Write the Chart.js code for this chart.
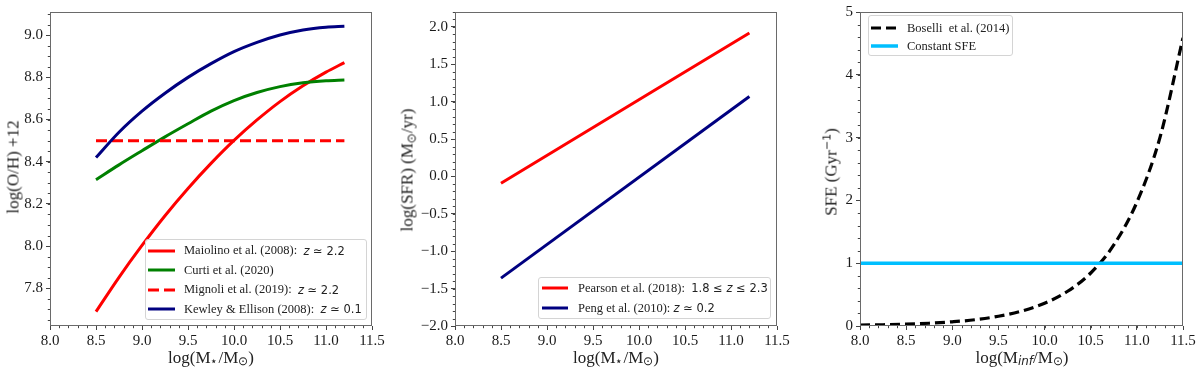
<!DOCTYPE html>
<html>
<head>
<meta charset="utf-8">
<script src="https://cdn.jsdelivr.net/npm/chart.js@4.4.1/dist/chart.umd.min.js"></script>
<style>
  html, body { margin:0; padding:0; background:#fff; }
  #wrap { position:relative; width:1200px; height:371px; overflow:hidden; font-family:"Liberation Serif", serif; color:#1a1a1a; }
  .pane { position:absolute; top:0; width:400px; height:371px; }
  .lab { position:absolute; white-space:nowrap; font-size:17px; line-height:1; transform:translate(-50%,-50%); color:#222; }
  .rot { transform:translate(-50%,-50%) rotate(-90deg); }
  .leg { position:absolute; box-sizing:border-box; border:1px solid #d4d4d4; border-radius:3px; background:rgba(255,255,255,0.85); }
  .row { display:flex; align-items:center; white-space:nowrap; font-size:12px; color:#222; }
  .row svg { flex:none; }
  .m { font-family:"DejaVu Sans", sans-serif; font-size:11.5px; }
  sub { font-size:70%; vertical-align:-0.25em; line-height:0; }
  sup { font-size:65%; vertical-align:0.55em; line-height:0; }
</style>
</head>
<body>
<div id="wrap">
  <div class="pane" style="left:0"><canvas id="c1" width="400" height="371"></canvas></div>
  <div class="pane" style="left:400px"><canvas id="c2" width="400" height="371"></canvas></div>
  <div class="pane" style="left:800px"><canvas id="c3" width="400" height="371"></canvas></div>

  <div class="lab rot" style="left:13px;top:167px">log(O/H) +12</div>
  <div class="lab" style="left:211px;top:357px">log(M<sub>⋆</sub>/M<sub>⊙</sub>)</div>
  <div class="lab rot" style="left:407px;top:170px">log(SFR) (M<sub>⊙</sub>/yr)</div>
  <div class="lab" style="left:616px;top:357px">log(M<sub>⋆</sub>/M<sub>⊙</sub>)</div>
  <div class="lab rot" style="left:831px;top:172px">SFE (Gyr<sup class="m" style="font-size:65%">−1</sup>)</div>
  <div class="lab" style="left:1022px;top:357px">log(M<sub><i class="m" style="font-size:100%">inf</i></sub>/M<sub>⊙</sub>)</div>

  <div id="leg1" class="leg" style="left:145px;top:239px;width:222px;height:81px;padding-top:1px"></div>
  <div id="leg2" class="leg" style="left:538px;top:277px;width:233px;height:42px;padding-top:0px"></div>
  <div id="leg3" class="leg" style="left:868px;top:15px;width:145px;height:41px;padding-top:3px"></div>
</div>

<script>
// ---------------- data ----------------
const xTicks = [8.0, 8.5, 9.0, 9.5, 10.0, 10.5, 11.0, 11.5];
const xTickLabels = ['8.0', '8.5', '9.0', '9.5', '10.0', '10.5', '11.0', '11.5'];

// Panel 1: mass-metallicity relations
const massMZ   = [8.5, 8.75, 9.0, 9.25, 9.5, 9.75, 10.0, 10.25, 10.5, 10.75, 11.0, 11.2];
const maiolino = [7.689, 7.852, 8.003, 8.144, 8.273, 8.392, 8.501, 8.598, 8.685, 8.760, 8.825, 8.870];
const curti    = [8.315, 8.385, 8.452, 8.518, 8.580, 8.640, 8.690, 8.728, 8.756, 8.774, 8.784, 8.788];
const massMig  = [8.5, 11.2];
const mignoli  = [8.5, 8.5];
const kewley   = [8.42, 8.54, 8.64, 8.725, 8.80, 8.865, 8.922, 8.966, 9.001, 9.025, 9.038, 9.042];
const yTicks1 = [7.8, 8.0, 8.2, 8.4, 8.6, 8.8, 9.0];
const yTickLabels1 = ['7.8', '8.0', '8.2', '8.4', '8.6', '8.8', '9.0'];

// Panel 2: main sequence
const massMS  = [8.5, 11.2];
const pearson = [-0.09, 1.92];
const peng    = [-1.36, 1.07];
const yTicks2 = [-2.0, -1.5, -1.0, -0.5, 0.0, 0.5, 1.0, 1.5, 2.0];
const yTickLabels2 = ['−2.0', '−1.5', '−1.0', '−0.5', '0.0', '0.5', '1.0', '1.5', '2.0'];

// Panel 3: star formation efficiency
const massInf  = [8.0, 8.25, 8.5, 8.75, 9.0, 9.25, 9.5, 9.75, 10.0, 10.25, 10.5, 10.75, 11.0, 11.25, 11.5];
const boselli  = [0.015, 0.020, 0.029, 0.044, 0.067, 0.10, 0.155, 0.237, 0.362, 0.553, 0.844, 1.29, 1.97, 3.00, 4.59];
const massConst = [8.0, 11.5];
const constSFE  = [1.0, 1.0];
const yTicks3 = [0, 1, 2, 3, 4, 5];
const yTickLabels3 = ['0', '1', '2', '3', '4', '5'];

// ---------------- helpers ----------------
const SERIF = "'Liberation Serif', 'Times New Roman', serif";
Chart.defaults.font.family = SERIF;
Chart.defaults.color = '#1a1a1a';

function pts(xs, ys) { return xs.map((x, i) => ({ x: x, y: ys[i] })); }
function range(a, b, s) { const r = []; for (let v = a; v <= b + 1e-9; v += s) r.push(+v.toFixed(4)); return r; }

const framePlugin = {
  id: 'frame',
  afterDraw(chart, args, opts) {
    const ctx = chart.ctx, a = chart.chartArea;
    const xs = chart.scales.x, ys = chart.scales.y;
    ctx.save();
    ctx.strokeStyle = '#444';
    ctx.lineWidth = 1;
    ctx.beginPath();
    (opts.xMinor || []).forEach(v => {
      if (v < xs.min - 1e-9 || v > xs.max + 1e-9) return;
      const p = Math.round(xs.getPixelForValue(v)) + 0.5;
      ctx.moveTo(p, a.bottom); ctx.lineTo(p, a.bottom + 2.2);
    });
    (opts.yMinor || []).forEach(v => {
      if (v < ys.min - 1e-9 || v > ys.max + 1e-9) return;
      const p = Math.round(ys.getPixelForValue(v)) + 0.5;
      ctx.moveTo(a.left, p); ctx.lineTo(a.left - 2.2, p);
    });
    ctx.stroke();
    ctx.strokeStyle = '#6a6a6a';
    ctx.strokeRect(Math.round(a.left) + 0.5, Math.round(a.top) + 0.5,
                   Math.round(a.right - a.left) - 1, Math.round(a.bottom - a.top) - 1);
    ctx.restore();
  }
};

function xScale() {
  return {
    type: 'linear', min: 8.0, max: 11.5,
    afterBuildTicks: s => { s.ticks = xTicks.map(v => ({ value: v })); },
    ticks: { callback: (v, i) => xTickLabels[i], font: { family: SERIF, size: 15 }, padding: 2, maxRotation: 0, autoSkip: false, color: '#1a1a1a' },
    grid: { drawOnChartArea: false, drawTicks: true, tickLength: 4, color: '#444' },
    border: { display: false },
    afterFit: s => { s.height = 45; }
  };
}
function yScale(min, max, ticks, labels, width) {
  return {
    type: 'linear', min: min, max: max,
    afterBuildTicks: s => { s.ticks = ticks.map(v => ({ value: v })); },
    ticks: { callback: (v, i) => labels[i], font: { family: SERIF, size: 15 }, padding: 3, autoSkip: false, color: '#1a1a1a' },
    grid: { drawOnChartArea: false, drawTicks: true, tickLength: 4, color: '#444' },
    border: { display: false },
    afterFit: s => { s.width = width; }
  };
}
function ds(label, xs, ys, color, opts) {
  return Object.assign({
    label: label, data: pts(xs, ys), borderColor: color, backgroundColor: color,
    borderWidth: 3, pointRadius: 0, fill: false, cubicInterpolationMode: 'monotone'
  }, opts || {});
}
function make(id, datasets, yS, pad, minor) {
  const n = datasets.length;
  datasets.forEach((d, i) => { d.order = n - i; });
  return new Chart(document.getElementById(id), {
    type: 'line',
    data: { datasets: datasets },
    options: {
      responsive: false, animation: false, events: [], devicePixelRatio: 1,
      layout: { padding: pad },
      plugins: { legend: { display: false }, tooltip: { enabled: false }, frame: minor },
      scales: { x: xScale(), y: yS }
    },
    plugins: [framePlugin]
  });
}

// ---------------- charts ----------------
const RED = '#ff0000', GREEN = '#008000', NAVY = '#000080', CYAN = '#00bfff', BLACK = '#000000';
const DASH = [11, 5];

const s1 = [
  ds('Maiolino et al. (2008):', massMZ, maiolino, RED),
  ds('Curti et al. (2020)', massMZ, curti, GREEN),
  ds('Mignoli et al. (2019):', massMig, mignoli, RED, { borderDash: DASH }),
  ds('Kewley & Ellison (2008):', massMZ, kewley, NAVY)
];
make('c1', s1, yScale(7.621, 9.110, yTicks1, yTickLabels1, 50),
     { left: 0, right: 28, top: 12, bottom: 0 },
     { xMinor: range(8.0, 11.5, 0.1), yMinor: range(7.65, 9.1, 0.05) });

const s2 = [
  ds('Pearson et al. (2018):', massMS, pearson, RED),
  ds('Peng et al. (2010):', massMS, peng, NAVY)
];
make('c2', s2, yScale(-2.0, 2.2, yTicks2, yTickLabels2, 55),
     { left: 0, right: 23, top: 12, bottom: 0 },
     { xMinor: range(8.0, 11.5, 0.1), yMinor: range(-2.0, 2.2, 0.1) });

const s3 = [
  ds('Boselli\u00a0 et al. (2014)', massInf, boselli, BLACK, { borderDash: [10, 5], borderWidth: 3.2 }),
  ds('Constant SFE', massConst, constSFE, CYAN, { borderWidth: 3.5 })
];
make('c3', s3, yScale(0, 5, yTicks3, yTickLabels3, 60),
     { left: 0, right: 17, top: 11, bottom: 0 },
     { xMinor: range(8.0, 11.5, 0.1), yMinor: range(0, 5, 0.2) });

// ---------------- legends (HTML) ----------------
const math1 = ['<i>z</i> ≃ 2.2', '', '<i>z</i> ≃ 2.2', '<i>z</i> ≃ 0.1'];
const math2 = ['1.8 ≤ <i>z</i> ≤ 2.3', '<i>z</i> ≃ 0.2'];
const math3 = ['', ''];
const seps1 = ['\u00a0\u00a0', '', '\u00a0\u00a0', '\u00a0\u00a0'];
const seps2 = ['\u00a0\u00a0', '\u00a0'];

function sample(d, w) {
  const dash = d.borderDash ? d.borderDash.join(' ') : 'none';
  return '<svg width="' + w + '" height="6" style="display:block"><line x1="0" y1="3" x2="' + w +
         '" y2="3" stroke="' + d.borderColor + '" stroke-width="' + d.borderWidth +
         '" stroke-dasharray="' + dash + '"/></svg>';
}
function buildLegend(id, sets, maths, seps, rowH, off, sw, gap, fs) {
  const el = document.getElementById(id);
  el.innerHTML = sets.map((d, i) =>
    '<div class="row" style="height:' + rowH + 'px;font-size:' + fs + 'px">' +
    '<span style="width:' + off + 'px;flex:none"></span>' + sample(d, sw) +
    '<span style="width:' + gap + 'px;flex:none"></span>' +
    '<span>' + d.label.replace('&', '&amp;') + (seps[i] || '') + '</span>' +
    (maths[i] ? '<span class="m">' + maths[i] + '</span>' : '') + '</div>'
  ).join('');
}
buildLegend('leg1', s1, math1, seps1, 19.5, 2, 27, 9, 12.5);
buildLegend('leg2', s2, math2, seps2, 20, 3, 26, 10, 12.5);
buildLegend('leg3', s3, math3, [], 18, 2, 27, 9, 12.5);
</script>
</body>
</html>
